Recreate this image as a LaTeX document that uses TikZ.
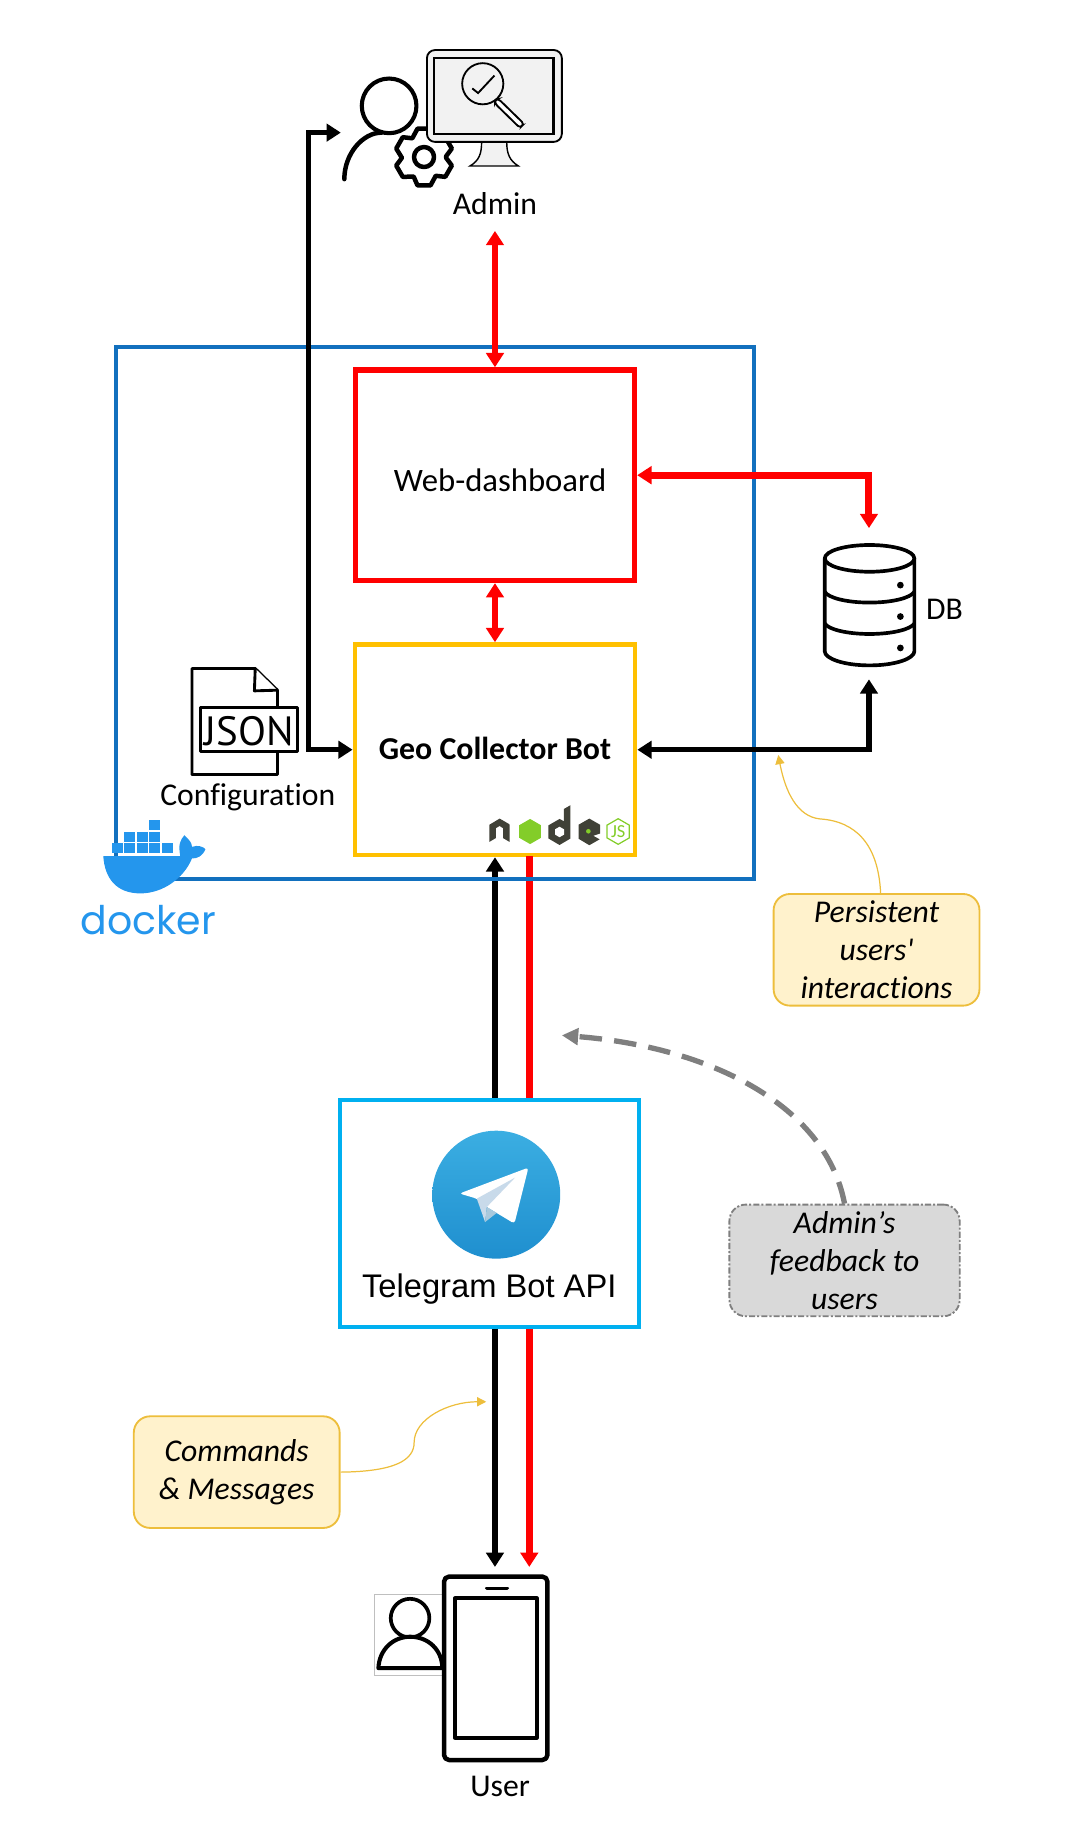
\documentclass[tikz,border=0pt]{standalone}
\usepackage{fontspec}
\setmainfont[Ligatures=NoCommon]{Carlito}
\newfontfamily\notefont[Ligatures=NoCommon]{Carlito}
\newfontfamily\arialfont{Liberation Sans}
\newfontfamily\dockfont{Poppins}
\newfontfamily\jsonfont{PT Sans}
\usetikzlibrary{arrows.meta}
\definecolor{dockblue}{HTML}{1270BE}
\definecolor{whaleblue}{HTML}{2496ED}
\definecolor{botgold}{HTML}{FFC000}
\definecolor{tgcyan}{HTML}{00B0F0}
\definecolor{tgtop}{HTML}{3BAEE2}
\definecolor{tgbottom}{HTML}{1F8FCF}
\definecolor{foldlight}{HTML}{C8DAEA}
\definecolor{folddark}{HTML}{A9C9DD}
\definecolor{notefill}{HTML}{FFF2CC}
\definecolor{noteline}{HTML}{EDBE3C}
\definecolor{greyfill}{HTML}{D9D9D9}
\definecolor{greyline}{HTML}{7F7F7F}
\definecolor{nodedark}{HTML}{404137}
\definecolor{nodegreen}{HTML}{83CD29}
\tikzset{
  every node/.style={font=\fontsize{15.5}{18.7}\selectfont,inner sep=0pt},
  blockbox/.style={draw,rectangle},
  dockbox/.style={blockbox,draw=dockblue,line width=1.95pt,minimum width=10.96cm,minimum height=9.16cm},
  webbox/.style={blockbox,draw=red,line width=2.6pt,minimum width=4.8cm,minimum height=3.62cm},
  botbox/.style={blockbox,draw=botgold,line width=2.2pt,minimum width=4.82cm,minimum height=3.62cm,font=\fontsize{15.6}{18.7}\selectfont\bfseries},
  tgbox/.style={blockbox,draw=tgcyan,line width=2pt,minimum width=5.14cm,minimum height=3.9cm},
  notebox/.style={draw=noteline,fill=notefill,rounded corners=8pt,line width=.9pt,minimum width=3.54cm,minimum height=1.92cm,align=center,font=\notefont\fontsize{15.5}{18.7}\selectfont\itshape},
  greybox/.style={notebox,draw=greyline,fill=greyfill,dash pattern=on 3pt off 1pt on 1pt off 1pt,minimum width=3.96cm},
  blackarrow/.style={line width=2.7pt,black,-{Triangle[length=7pt,width=8.5pt]}},
  blackboth/.style={blackarrow,{Triangle[length=7pt,width=8.5pt]}-{Triangle[length=7pt,width=8.5pt]}},
  redarrow/.style={blackarrow,red,line width=3.4pt},
  redboth/.style={blackboth,red,line width=3.4pt},
  notearrow/.style={noteline,line width=.6pt,-{Triangle[length=4.5pt,width=4.5pt]}},
  iconline/.style={line width=1.8pt,line join=round,line cap=round,fill=white}
}
\begin{document}
\begin{tikzpicture}[x=0.02cm,y=-0.02cm]
\useasboundingbox (0,0) rectangle (917,1568);
% boxes
\node[webbox] (web) at (425.5,408.5) {\hspace{5pt}\raisebox{-8pt}[0pt][0pt]{\fontsize{16}{18}\selectfont Web-dashboard}};
\node[botbox] (bot) at (425.5,644.5) {\raisebox{1pt}{Geo Collector Bot}};
\node[tgbox] (tg) at (420.5,1043) {};
\coordinate (adminin) at (425.5,198.5);
\coordinate (adminleft) at (293,114);
\coordinate (elbow) at (265,114);
\coordinate (dbtop) at (747,454);
\coordinate (dbbottom) at (747,584);
\coordinate (redtop) at (455,736);
\coordinate (blackend) at (425.5,1347);
\coordinate (redend) at (455,1347);
% connectors below the docker frame
\draw[blackarrow] (bot.south |- tg.north) -- (bot.south);
\draw[line width=3.4pt,red] (redtop) -- (redtop |- tg.north);
\draw[blackarrow] (blackend |- tg.south) -- (blackend);
\draw[redarrow] (redend |- tg.south) -- (redend);
\node[dockbox] (dock) at (374,527) {};
% connectors above it
\draw[redboth] (adminin) -- (web.north);
\draw[redboth] (web.south) -- (bot.north);
\draw[redboth] (web.east) -| (dbtop);
\draw[blackboth] (bot.east) -| (dbbottom);
\draw[blackboth] (adminleft) -- (elbow) |- (bot.west);
% docker
\fill[whaleblue] (88.8,736) -- (155,736) .. controls (153,726) and (155,722) .. (158.5,718) .. controls (163,722) and (165,725) .. (165,728) .. controls (170,726) and (175,728) .. (176.6,730) .. controls (174,736) and (170,738) .. (165,738) .. controls (158,755) and (140,768) .. (120.7,768) .. controls (100,768) and (90,755) .. (88.8,736) -- cycle;
\foreach \bx/\by in {96.7/725,106.9/725,117.4/725,128.3/725,139.1/725,106.9/715,117.4/715,128.3/715,128.3/705}
  \fill[whaleblue] (\bx,\by) rectangle +(9.4,8.6);
\node[text=whaleblue,font=\dockfont\fontsize{19.3}{24}\selectfont] (docklabel) at (127.5,791) {docker};
% json file
\draw[iconline,line width=1.4pt] (165,574.7) -- (219.4,574.7) -- (238.5,593.3) -- (238.5,665.8) -- (165,665.8) -- cycle;
\draw[iconline,line width=1.4pt] (219.4,574.7) -- (218.7,593.9) -- (238.5,593.3);
\draw[iconline,line width=1.4pt] (172,608.4) rectangle (256,646.3);
\node[font=\jsonfont\fontsize{20}{22}\selectfont] (jsonlabel) at (214.2,628.4) {JSON};
\node (config) at (213,685) {Configuration};
% node logo
\fill[nodedark] (420.7,723.7) -- (420.7,709) -- (429.5,703.7) -- (437,708) -- (438,709) -- (438,723.7) -- (432.5,720.5) -- (432.5,712) -- (429.5,710) -- (426.2,712) -- (426.2,720.5) -- cycle;
\fill[nodegreen,shift={(455.7,714.8)}] (30:10.8) -- (90:10.8) -- (150:10.8) -- (210:10.8) -- (270:10.8) -- (330:10.8) -- cycle;
\fill[nodedark] (490.4,692.2) -- (490.4,720.8) -- (481,726.4) -- (471.5,720.8) -- (471.5,709.5) -- (481,704) -- (484.8,706) -- (484.8,695.4) -- cycle;
\fill[white,shift={(481,715.2)}] (30:4.5) -- (90:4.5) -- (150:4.5) -- (210:4.5) -- (270:4.5) -- (330:4.5) -- cycle;
\fill[nodedark] (506.6,703.7) -- (515.9,709) -- (515.9,716.5) -- (510,718.5) -- (515.5,721.5) -- (506.6,726.6) -- (497.3,721) -- (497.3,709) -- cycle;
\fill[nodegreen] (505.8,714.6) circle[radius=2];
\draw[nodegreen,line width=.6pt,shift={(531.4,714.8)}] (30:11) -- (90:11) -- (150:11) -- (210:11) -- (270:11) -- (330:11) -- cycle;
\node[text=nodegreen,font=\fontsize{9}{10}\selectfont] (jslabel) at (531.4,715) {JS};
% db
\draw[iconline] (709,480) -- (709,560) .. controls (709,566) and (725,572) .. (747.5,572) .. controls (770,572) and (786,566) .. (786,560) -- (786,480);
\draw[iconline] (747.5,480) ellipse[x radius=38.5,y radius=11.5];
\draw[iconline,fill=none] (709,508.7) .. controls (712,514) and (728,518) .. (747.5,518) .. controls (767,518) and (783,514) .. (786,508.7);
\draw[iconline,fill=none] (709,536) .. controls (712,541) and (728,545) .. (747.5,545) .. controls (767,545) and (783,541) .. (786,536);
\foreach \dy in {503,530,557}
  \fill (774,\dy) circle[radius=2.9];
\node (dblabel) at (812,524) {DB};
% admin
\draw[iconline,line width=2pt] (334.5,91) circle[radius=23.5];
\draw[iconline,fill=none,line width=2.2pt] (296,154) .. controls (296,132) and (312,114) .. (328,114);
\draw[iconline,line width=2.2pt,shift={(364.5,135)}] (2:19) \foreach \a in {30,90,...,330} { -- (\a-13:25) -- (\a+13:25) -- (\a+28:19) } -- cycle;
\draw[iconline,line width=2.2pt,shift={(364.5,135)}] (0,0) circle[radius=8.6];
\draw[line width=.7pt,fill=black!5] (414,122) .. controls (414,132) and (412,138) .. (404,142.7) -- (445.6,142.7) .. controls (438,138) and (435.6,132) .. (435.6,122) -- cycle;
\draw[line width=.9pt,fill=black!5,rounded corners=4pt] (367,43) rectangle (483,122);
\draw[line width=1.2pt,fill=black!5] (373,50) rectangle (476,115);
\draw[line width=.9pt,fill=white,rounded corners=1.5pt] (425.5,85.5) -- (428.5,85) -- (450.5,106.5) -- (447,110) -- (425.5,89) -- cycle;
\draw[line width=.9pt,fill=black!5] (415,72) circle[radius=17.7];
\draw[line width=.9pt] (406,76) -- (411,80) -- (425,65);
\node (adminlabel) at (425.5,175) {Admin};
% telegram
\shade[top color=tgtop,bottom color=tgbottom] (426.6,1027) circle[radius=55];
\fill[white,rounded corners=1.5pt] (395,1026) -- (454.3,1003.7) -- (442.2,1051.9) -- (418.5,1037.6) -- (409.9,1030.4) -- cycle;
\fill[foldlight] (409.9,1030.4) -- (442.8,1012.3) -- (418.5,1037.6) -- (417,1050.5) -- cycle;
\fill[folddark] (417,1050.5) -- (418.5,1037.6) -- (427,1042.7) -- cycle;
\node[font=\arialfont\fontsize{16}{19}\selectfont] (tglabel) at (420.6,1108) {Telegram Bot API};
% notes
\node[notebox] (persist) at (753.5,816.5) {Persistent\\users'\\interactions};
\node[notebox] (commands) at (203.5,1265.5) {Commands\\\& Messages};
\node[greybox] (feedback) at (726,1083.5) {Admin’s\\feedback to\\users};
\coordinate (persistend) at (669,649);
\coordinate (commandsend) at (418,1205);
\coordinate (feedbackend) at (483,890);
\draw[notearrow] ([xshift=2pt]persist.north) .. controls (755,725) and (735,706) .. (705,704) .. controls (685,702) and (675,680) .. (persistend);
\draw[notearrow] (commands.east) .. controls (340,1265) and (356,1255) .. (356,1240) .. controls (356,1220) and (385,1205) .. (commandsend);
\draw[greyline,line width=2.6pt,dash pattern=on 11pt off 6pt,-{Triangle[length=8pt,width=8pt]}] (feedback.north) .. controls (710,950) and (610,900) .. (feedbackend);
% user
\draw[black!25,line width=.5pt] (321.8,1371) rectangle (381.5,1440);
\draw[iconline] (352.5,1391) circle[radius=16.6];
\draw[iconline,line width=2pt] (325.3,1434) .. controls (326,1418) and (338,1407) .. (352.5,1407) .. controls (368,1407) and (380,1418) .. (380.3,1434) -- cycle;
\draw[iconline,line width=2.2pt,rounded corners=2.5pt] (381.7,1355.3) rectangle (470.6,1513);
\draw[iconline,line width=2pt] (391.2,1374) rectangle (461.4,1493.8);
\draw[line width=1.8pt,line cap=round] (418.5,1365.4) -- (436,1365.4);
\node (userlabel) at (429.9,1535.3) {User};
\end{tikzpicture}
\end{document}
